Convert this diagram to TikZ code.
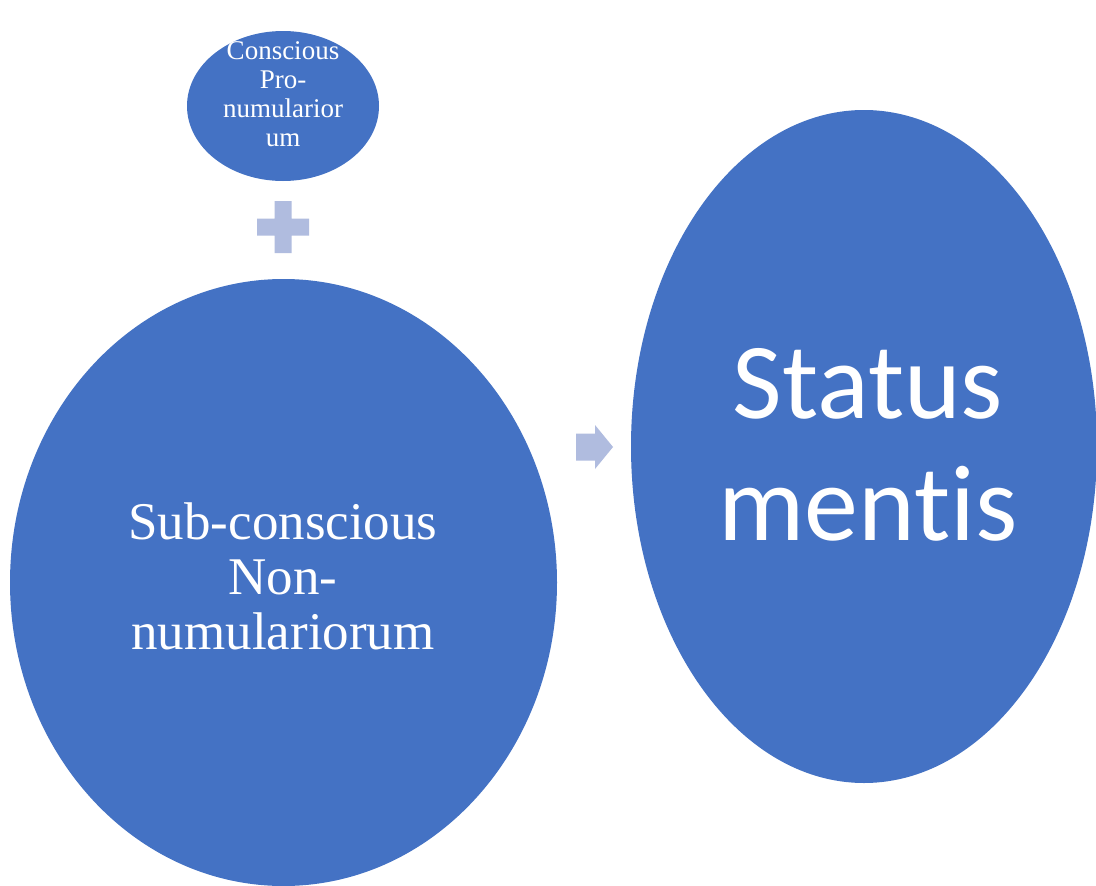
\documentclass[tikz,border=0pt]{standalone}
\usepackage{fontspec}
\setmainfont{Liberation Serif}
\newfontfamily\calib[Ligatures=NoCommon]{Carlito}
\usetikzlibrary{shapes.geometric}
\definecolor{blueone}{HTML}{4472C4}
\definecolor{paleblue}{HTML}{B0BCDF}
\begin{document}
\begin{tikzpicture}[x=1pt,y=-1pt,
  blob/.style={ellipse, fill=blueone, draw=none, inner sep=0pt},
  label/.style={text=white, align=center, anchor=base, inner sep=0pt}]
\useasboundingbox (0,0) rectangle (1096,886);
\fill[white] (0,0) rectangle (1096,886);
% ellipses
\node[blob, minimum width=192pt, minimum height=150pt] (small) at (283,106) {};
\node[blob, minimum width=547pt, minimum height=607pt] (big) at (283.5,582.5) {};
\node[blob, minimum width=466pt, minimum height=673pt] (res) at (864,446.5) {};
% texts (anchor base = baseline of the last line)
\node[label, font=\fontsize{27pt}{28.7pt}\selectfont] (smalltext) at (283,146)
  {Conscious\\Pro-\\numularior\\um};
\node[label, font=\fontsize{53pt}{55pt}\selectfont] (bigtext) at (283,649)
  {Sub-conscious\\Non-\\numulariorum};
\node[label, font=\calib\fontsize{108pt}{122pt}\selectfont] (restext) at (868,540)
  {Status\\mentis};
% plus sign
\coordinate (plus) at (283,227);
\fill[paleblue] ([shift={(-26,-8.5)}]plus) -- ([shift={(-8.5,-8.5)}]plus) -- ([shift={(-8.5,-26)}]plus)
  -- ([shift={(8.5,-26)}]plus) -- ([shift={(8.5,-8.5)}]plus) -- ([shift={(26,-8.5)}]plus)
  -- ([shift={(26,8.5)}]plus) -- ([shift={(8.5,8.5)}]plus) -- ([shift={(8.5,26)}]plus)
  -- ([shift={(-8.5,26)}]plus) -- ([shift={(-8.5,8.5)}]plus) -- ([shift={(-26,8.5)}]plus) -- cycle;
% arrow
\coordinate (arrowtip) at (613,447);
\fill[paleblue] ([shift={(-37,-13.5)}]arrowtip) -- ([shift={(-18,-13.5)}]arrowtip) -- ([shift={(-18,-22)}]arrowtip)
  -- (arrowtip) -- ([shift={(-18,22)}]arrowtip) -- ([shift={(-18,13.5)}]arrowtip)
  -- ([shift={(-37,13.5)}]arrowtip) -- cycle;
\end{tikzpicture}
\end{document}
